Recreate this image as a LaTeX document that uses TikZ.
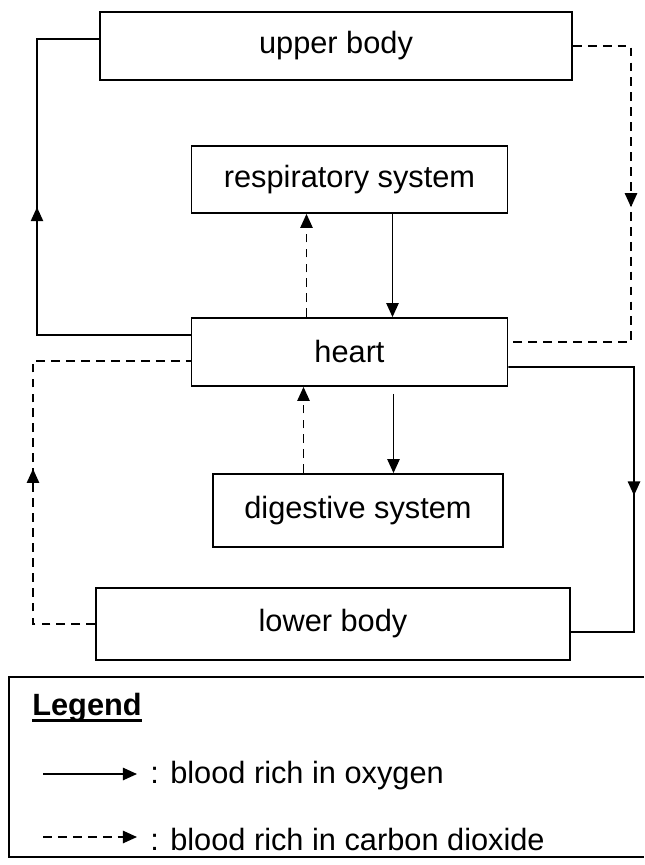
\documentclass[tikz,border=0pt]{standalone}
\usepackage{fontspec}
\setmainfont{Liberation Sans}
\usepackage{tikz}
\usetikzlibrary{arrows.meta,decorations.markings}

\begin{document}
\begin{tikzpicture}[
  organ/.style={draw, line width=1pt, inner sep=0pt, font=\fontsize{17.5}{21}\selectfont},
  keytext/.style={anchor=base west, inner sep=0pt, font=\fontsize{17.5}{21}\selectfont},
  oxy/.style={line width=1pt},
  co2/.style={line width=1pt, dash pattern=on 5pt off 3.5pt},
  endtip/.style={-{Triangle[length=8pt,width=7pt]}},
  midarrow/.style={postaction={decorate}, decoration={markings,
    mark=at position #1 with {\arrow{Triangle[length=8pt,width=7pt]}}}}
]

\useasboundingbox (0,0) rectangle (12.88,-17.3);

\coordinate (U) at (6.72,-0.92);
\coordinate (R) at (6.99,-3.59);
\coordinate (H) at (6.99,-7.04);
\coordinate (D) at (7.16,-10.21);
\coordinate (L) at (6.66,-12.48);

\node[organ, minimum width=9.44cm, minimum height=1.36cm] (upper) at (U) {upper body};
\node[organ, minimum width=6.32cm, minimum height=1.34cm] (resp) at (R) {respiratory system};
\node[organ, minimum width=6.32cm, minimum height=1.36cm] (heart) at (H) {heart};
\node[organ, minimum width=5.8cm, minimum height=1.46cm] (dig) at (D) {digestive system};
\node[organ, minimum width=9.48cm, minimum height=1.44cm] (lower) at (L) {lower body};

% outer loops
\coordinate (LT) at (0.74,-0.78);
\coordinate (RT) at (12.62,-0.92);
\coordinate (RB) at (12.68,-12.64);
\coordinate (LB) at (0.66,-12.48);

\draw[oxy, midarrow=0.55] ([yshift=0.34cm]heart.west) -| (LT) -- ([yshift=0.14cm]upper.west);
\draw[co2, midarrow=0.46] (upper.east) -- (RT) |- ([yshift=0.2cm]heart.east);
\draw[oxy, midarrow=0.56] ([yshift=-0.3cm]heart.east) -| (RB) -- ([yshift=-0.16cm]lower.east);
\draw[co2, midarrow=0.45] (lower.west) -- (LB) |- ([yshift=-0.18cm]heart.west);

% inner exchanges
\draw[co2, endtip] ([xshift=-0.86cm]heart.north) -- ([xshift=-0.86cm]resp.south);
\draw[oxy, endtip] ([xshift=0.86cm]resp.south) -- ([xshift=0.86cm]heart.north);

\coordinate (dUp) at ([xshift=-0.92cm]heart.south);
\coordinate (dDn) at ([xshift=0.88cm]heart.south);
\draw[co2, endtip] (dUp |- dig.north) -- (dUp);
\draw[oxy, endtip, shorten <=0.14cm] (dDn) -- (dDn |- dig.north);

% legend
\draw[oxy] (12.88,-13.54) -- (0.18,-13.54) -- (0.18,-17.14) -- (12.88,-17.14);
\node[keytext, font=\fontsize{17.5}{21}\selectfont\bfseries] (legtitle) at (0.64,-14.3) {Legend};
\draw[line width=1.5pt] ([yshift=-0.11cm]legtitle.base west) -- ([yshift=-0.11cm]legtitle.base east);

\coordinate (k1) at (0.86,-15.48);
\coordinate (k1e) at (2.74,-15.48);
\coordinate (k2) at (0.86,-16.74);
\coordinate (k2e) at (2.74,-16.74);
\draw[oxy, endtip] (k1) -- (k1e);
\draw[co2, endtip] (k2) -- (k2e);
\node[keytext] (oxytext) at (3.0,-15.66) {: blood rich in oxygen};
\node[keytext] (co2text) at (3.0,-17.0) {: blood rich in carbon dioxide};

\end{tikzpicture}
\end{document}
